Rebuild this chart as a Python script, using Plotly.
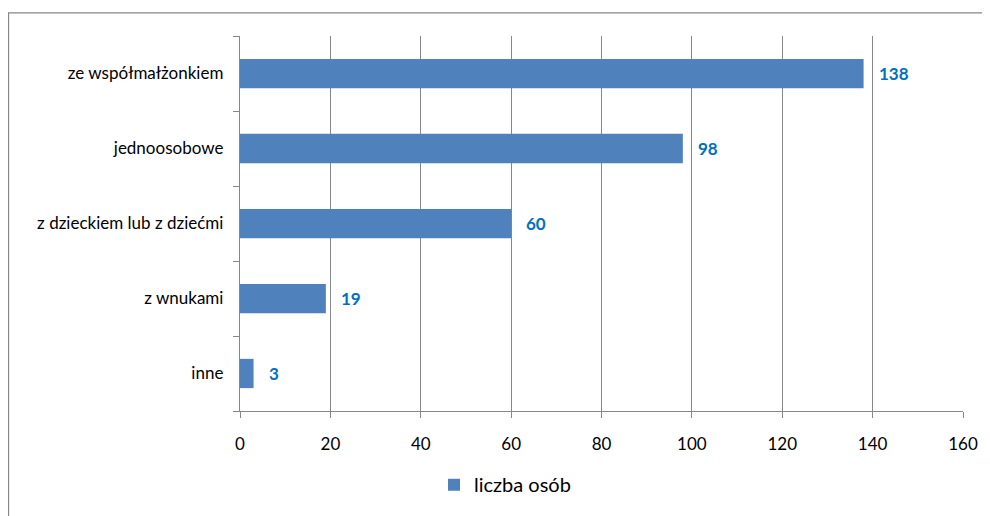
import plotly.graph_objects as go

categories = ["ze współmałżonkiem", "jednoosobowe", "z dzieckiem lub z dziećmi", "z wnukami", "inne"]
values = [138, 98, 60, 19, 3]
series_name = "liczba osób"
x_ticks = [0, 20, 40, 60, 80, 100, 120, 140, 160]

FONT = "Lato"
GRAY = "#878787"
OFF = 8  # page body margin
W, H = 990 - OFF, 516 - OFF
# target pixel positions in the window
PL, PR, PT, PB = 240, 963, 36, 418
L, T = PL - OFF, PT - OFF
R = W - (PR - OFF)
B = H - (PB - OFF)
pw, ph = W - L - R, H - T - B


def px_to_paper_x(px):
    return (px - PL) / pw


def px_to_paper_y(py):
    return 1 - (py - PT) / ph


fig = go.Figure()
fig.add_trace(go.Bar(
    x=values, y=categories, orientation="h", name=series_name,
    marker=dict(color="#4F81BD", line=dict(width=0)),
    showlegend=True,
))

for v, c in zip(values, categories):
    fig.add_annotation(x=v, y=c, text=f"<b>{v}</b>", showarrow=False,
                       xanchor="left", xshift=13,
                       font=dict(family=FONT, size=17, color="#0070C0"))

# outer chart border
fig.add_shape(type="rect", xref="paper", yref="paper",
              x0=px_to_paper_x(8.5), x1=px_to_paper_x(1020),
              y0=px_to_paper_y(560), y1=px_to_paper_y(12.5),
              line=dict(color=GRAY, width=1.3), fillcolor="rgba(0,0,0,0)", layer="below")

fig.update_layout(
    width=W, height=H,
    margin=dict(l=L, r=R, t=T, b=B),
    paper_bgcolor="white", plot_bgcolor="white",
    font=dict(family=FONT, size=17, color="#000000"),
    bargap=0.61,
    xaxis=dict(range=[0, 160], tickvals=x_ticks, showgrid=True, gridcolor=GRAY, gridwidth=1.4,
               showline=True, linecolor=GRAY, linewidth=1.4, ticks="outside", ticklen=6,
               tickcolor=GRAY, tickwidth=1.4, zeroline=False, ticklabelstandoff=11,
               tickfont=dict(size=17), fixedrange=True),
    yaxis=dict(categoryorder="array", categoryarray=categories[::-1],
               showline=True, linecolor=GRAY, linewidth=1.4, ticks="outside", ticklen=6,
               tickcolor=GRAY, tickwidth=1.4, tickson="boundaries", showgrid=False,
               ticklabelstandoff=12, tickfont=dict(size=17), fixedrange=True),
    legend=dict(orientation="h", x=px_to_paper_x(434), xanchor="left", y=px_to_paper_y(493),
                yanchor="middle", font=dict(size=20), itemwidth=30, bgcolor="rgba(0,0,0,0)"),
)

fig.write_html("out.html")
